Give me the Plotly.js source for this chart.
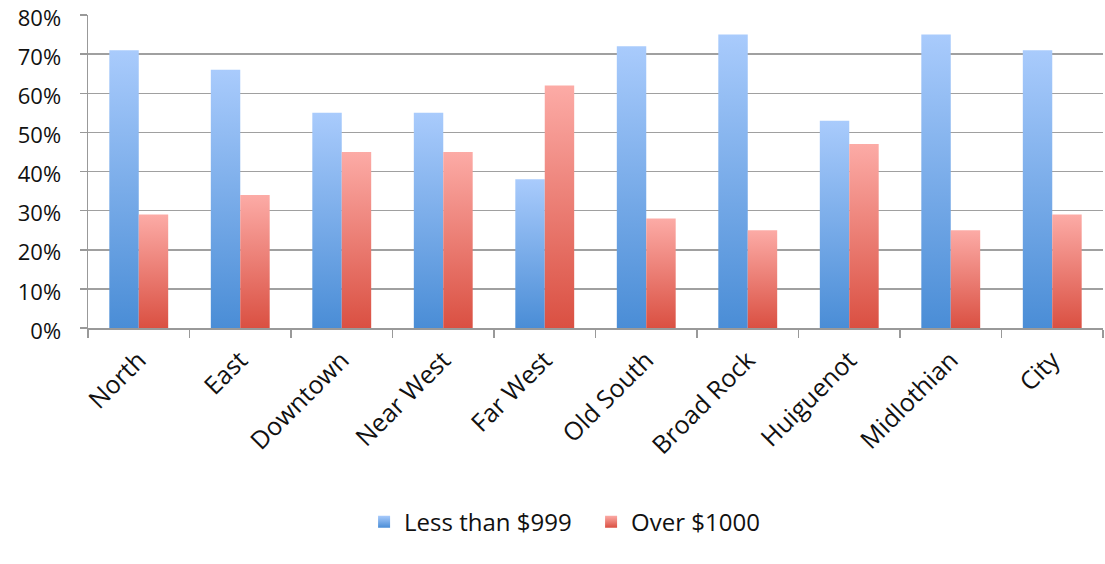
<!DOCTYPE html>
<html>
<head>
<meta charset="utf-8">
<script src="https://cdn.plot.ly/plotly-3.0.1.min.js"></script>
<style>
html,body{margin:0;padding:0;background:#fff;}
#chart{width:1105px;height:564px;}
</style>
</head>
<body>
<div id="chart"></div>
<script>
const categories = ["North","East","Downtown","Near West","Far West","Old South","Broad Rock","Huiguenot","Midlothian","City"];
const lessThan999 = [0.71,0.66,0.55,0.55,0.38,0.72,0.75,0.53,0.75,0.71];
const over1000 = [0.29,0.34,0.45,0.45,0.62,0.28,0.25,0.47,0.25,0.29];
const seriesNames = ["Less than $999","Over $1000"];
const yTicks = [0,0.1,0.2,0.3,0.4,0.5,0.6,0.7,0.8];

const FONT = "Open Sans, Lato, sans-serif";
const data = [
  {type:"bar", name:seriesNames[0], x:categories, y:lessThan999, marker:{color:"#76a9ea", line:{width:0}}},
  {type:"bar", name:seriesNames[1], x:categories, y:over1000, marker:{color:"#ee7f76", line:{width:0}}}
];
const layout = {
  width:1105, height:564,
  margin:{l:88, r:2, t:15, b:236},
  paper_bgcolor:"#fff", plot_bgcolor:"#fff",
  barmode:"group", bargap:0.42, bargroupgap:0,
  font:{family:FONT, color:"#111", size:22},
  showlegend:true,
  legend:{orientation:"h", x:0.272, xanchor:"left", y:-0.62, yanchor:"middle",
          font:{family:FONT, size:24, color:"#111"}, itemwidth:30, entrywidth:182, entrywidthmode:"pixels",
          traceorder:"normal"},
  xaxis:{type:"category", tickangle:-45, tickson:"boundaries", ticks:"outside", ticklen:8,
         tickcolor:"#999", tickwidth:1.5, showline:true, linecolor:"#999", linewidth:1.5,
         showgrid:false, ticklabelstandoff:6, tickfont:{family:FONT, size:25, color:"#111"}, automargin:false},
  yaxis:{range:[0,0.8], tickvals:yTicks, ticktext:yTicks.map(v=>Math.round(v*100)+"%"), ticks:"outside", ticklen:7,
         tickcolor:"#999", tickwidth:1.5, showline:true, linecolor:"#999", linewidth:1.5,
         showgrid:true, gridcolor:"#a0a0a0", gridwidth:1.5, zeroline:false, ticklabeloverflow:"allow",
         ticklabelstandoff:14, ticklabelshift:3, tickfont:{family:FONT, size:22, color:"#111"}, automargin:false}
};

function applyGradients(gd){
  const svg = gd.querySelector("svg.main-svg");
  if(!svg) return;
  let defs = svg.querySelector("defs");
  if(!defs){ defs = document.createElementNS("http://www.w3.org/2000/svg","defs"); svg.insertBefore(defs, svg.firstChild); }
  const mk = (id, top, bot) => {
    if(svg.querySelector("#"+id)) return;
    const g = document.createElementNS("http://www.w3.org/2000/svg","linearGradient");
    g.setAttribute("id", id); g.setAttribute("x1","0"); g.setAttribute("y1","0"); g.setAttribute("x2","0"); g.setAttribute("y2","1");
    [[0,top],[1,bot]].forEach(([o,c])=>{
      const s = document.createElementNS("http://www.w3.org/2000/svg","stop");
      s.setAttribute("offset", o); s.setAttribute("stop-color", c); g.appendChild(s);
    });
    defs.appendChild(g);
  };
  mk("gBlue", "#a9cbfc", "#4a8dd6");
  mk("gRed", "#fcaba6", "#da5042");
  const ids = ["gBlue","gRed"];
  gd.querySelectorAll(".barlayer .trace.bars").forEach((t,i)=>{
    t.querySelectorAll("path").forEach(p=>{ p.style.fill = "url(#"+ids[i]+")"; });
  });
  gd.querySelectorAll(".legend .traces").forEach((t,i)=>{
    t.querySelectorAll(".legendpoints path").forEach(p=>{ p.style.fill = "url(#"+ids[i]+")"; p.style.stroke="none"; });
  });
}

const gd = document.getElementById("chart");
Plotly.newPlot(gd, data, layout, {displayModeBar:false, staticPlot:true}).then(()=>{
  applyGradients(gd);
  gd.on("plotly_afterplot", ()=>applyGradients(gd));
});
</script>
</body>
</html>
